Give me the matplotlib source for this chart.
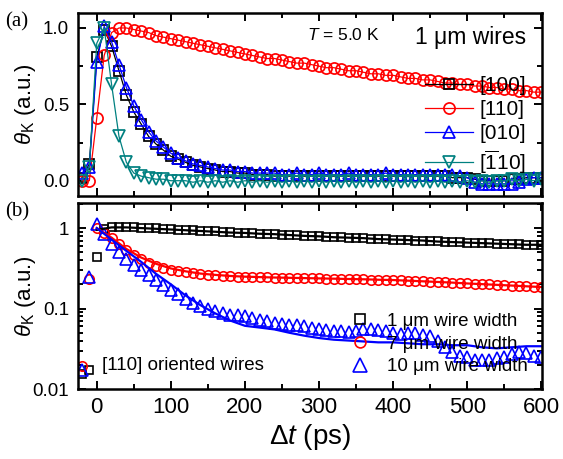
import numpy as np
import matplotlib
matplotlib.use('Agg')
import matplotlib.pyplot as plt
from matplotlib import ticker

plt.rcParams['font.family'] = ['Liberation Sans', 'DejaVu Sans']
plt.rcParams['mathtext.fontset'] = 'custom'
plt.rcParams['mathtext.rm'] = 'Liberation Sans'
plt.rcParams['mathtext.it'] = 'Liberation Sans:italic'
plt.rcParams['mathtext.bf'] = 'Liberation Sans:bold'

TEAL = '#008080'

# probe delay (ps), one point every 10 ps
delay = np.arange(-20, 601, 10)
# delay grid of the model curves in (b)
fit_delay = np.arange(0, 601, 20)

# (a) 1 um wires, Kerr signal for four wire orientations (normalised)
kerr_100 = [0.02, 0.11, 0.81, 0.99, 0.88, 0.72, 0.56, 0.45, 0.37, 0.29,
            0.24, 0.20, 0.16, 0.14, 0.12, 0.10, 0.09, 0.08, 0.07, 0.06,
            0.06, 0.05, 0.05, 0.04, 0.04, 0.04, 0.03, 0.03, 0.03, 0.03,
            0.03, 0.03, 0.03, 0.03, 0.03, 0.03, 0.03, 0.03, 0.03, 0.03,
            0.03, 0.03, 0.03, 0.03, 0.03, 0.03, 0.03, 0.03, 0.03, 0.03,
            0.02, 0.02, 0.02, 0.01, 0.00, 0.00, 0.00, 0.00, 0.01, 0.01,
            0.02, 0.02, 0.02]
kerr_110 = [0.00, 0.00, 0.41, 0.82, 0.97, 1.00, 1.00, 0.99, 0.98, 0.97,
            0.95, 0.94, 0.93, 0.92, 0.91, 0.90, 0.89, 0.88, 0.87, 0.86,
            0.85, 0.84, 0.83, 0.82, 0.81, 0.80, 0.80, 0.79, 0.78, 0.77,
            0.77, 0.76, 0.75, 0.74, 0.74, 0.73, 0.72, 0.72, 0.71, 0.70,
            0.70, 0.69, 0.69, 0.68, 0.67, 0.67, 0.66, 0.66, 0.65, 0.64,
            0.64, 0.63, 0.63, 0.62, 0.62, 0.61, 0.61, 0.60, 0.60, 0.59,
            0.59, 0.58, 0.58]
kerr_010 = [0.05, 0.09, 0.78, 1.01, 0.91, 0.76, 0.61, 0.49, 0.40, 0.32,
            0.26, 0.22, 0.18, 0.15, 0.13, 0.11, 0.10, 0.09, 0.08, 0.07,
            0.07, 0.06, 0.06, 0.05, 0.05, 0.05, 0.05, 0.04, 0.04, 0.05,
            0.04, 0.04, 0.05, 0.04, 0.04, 0.04, 0.05, 0.04, 0.04, 0.04,
            0.04, 0.05, 0.04, 0.04, 0.04, 0.04, 0.04, 0.04, 0.04, 0.04,
            0.04, 0.03, 0.02, -0.01, -0.02, -0.02, -0.02, -0.02, -0.02, -0.01,
            0.01, 0.02, 0.02]
kerr_m110 = [0.00, 0.09, 0.90, 1.00, 0.63, 0.29, 0.12, 0.05, 0.03, 0.02,
             0.01, 0.01, 0.00, 0.00, 0.00, -0.01, 0.00, -0.01, 0.00, -0.01,
             0.00, -0.01, 0.00, -0.01, 0.00, -0.01, 0.00, -0.01, 0.00, -0.01,
             0.00, -0.01, 0.00, -0.01, 0.00, -0.01, 0.00, -0.01, 0.00, -0.01,
             0.00, -0.01, 0.00, -0.01, 0.00, -0.01, 0.00, -0.01, 0.00, -0.01,
             0.00, -0.01, 0.00, -0.01, 0.00, -0.01, 0.00, 0.00, 0.01, 0.00,
             0.01, 0.00, 0.01]

# (b) [110] oriented wires of different width
width_1um = [0.0155, 0.017, 0.44, 0.98, 1.03, 1.04, 1.03, 1.02, 1.01, 1.00,
             0.99, 0.98, 0.97, 0.96, 0.95, 0.94, 0.93, 0.92, 0.91, 0.90,
             0.89, 0.88, 0.87, 0.86, 0.85, 0.84, 0.84, 0.83, 0.82, 0.81,
             0.80, 0.80, 0.79, 0.78, 0.77, 0.77, 0.76, 0.75, 0.75, 0.74,
             0.73, 0.73, 0.72, 0.71, 0.71, 0.70, 0.70, 0.69, 0.69, 0.68,
             0.67, 0.67, 0.66, 0.66, 0.65, 0.65, 0.64, 0.64, 0.63, 0.63,
             0.62, 0.62, 0.62]
width_7um = [0.0195, 0.235, 1.0, 0.88, 0.75, 0.63, 0.53, 0.46, 0.41, 0.37,
             0.34, 0.32, 0.305, 0.293, 0.283, 0.275, 0.268, 0.263, 0.259, 0.255,
             0.252, 0.25, 0.248, 0.246, 0.245, 0.244, 0.243, 0.242, 0.241, 0.24,
             0.239, 0.238, 0.237, 0.236, 0.235, 0.234, 0.233, 0.232, 0.231, 0.229,
             0.228, 0.227, 0.226, 0.224, 0.222, 0.22, 0.218, 0.216, 0.214, 0.212,
             0.21, 0.207, 0.205, 0.203, 0.201, 0.199, 0.197, 0.195, 0.193, 0.191,
             0.189, 0.187, 0.185]
width_10um = [0.017, 0.25, 1.13, 0.85, 0.63, 0.50, 0.41, 0.35, 0.30, 0.26,
              0.225, 0.195, 0.17, 0.15, 0.13, 0.118, 0.107, 0.099, 0.093, 0.088,
              0.084, 0.082, 0.080, 0.077, 0.073, 0.070, 0.067, 0.065, 0.063, 0.062,
              0.060, 0.058, 0.056, 0.054, 0.053, 0.052, 0.051, 0.053, 0.055, 0.056,
              0.054, 0.052, 0.050, 0.048, 0.050, 0.049, 0.047, 0.045, 0.040, 0.033,
              0.029, 0.026, 0.025, 0.023, 0.023, 0.023, 0.024, 0.025, 0.027, 0.029,
              0.028, 0.026, 0.025]

# model curves for (b)
fit_1um = [0.95, 1.02, 1.02, 1.00, 0.98, 0.96, 0.94, 0.92, 0.90, 0.88,
           0.87, 0.85, 0.84, 0.82, 0.80, 0.79, 0.77, 0.76, 0.75, 0.73,
           0.72, 0.71, 0.70, 0.68, 0.67, 0.66, 0.65, 0.64, 0.63, 0.62, 0.62]
fit_7um = [1.00, 0.76, 0.55, 0.43, 0.36, 0.315, 0.29, 0.272, 0.262, 0.254,
           0.249, 0.246, 0.243, 0.241, 0.239, 0.237, 0.235, 0.233, 0.231, 0.228,
           0.226, 0.222, 0.218, 0.214, 0.210, 0.205, 0.201, 0.197, 0.193, 0.189, 0.185]
fit_10um = [1.00, 0.72, 0.52, 0.38, 0.27, 0.20, 0.145, 0.11, 0.087, 0.071,
            0.061, 0.058, 0.055, 0.050, 0.046, 0.043, 0.041, 0.040, 0.039, 0.038,
            0.038, 0.037, 0.036, 0.036, 0.035, 0.035, 0.033, 0.032, 0.033, 0.034, 0.034]

orient_labels = ['[100]', '[110]', '[010]', r'[$\overline{1}$10]']
width_labels = [u'1 \u03bcm wire width', u'7 \u03bcm wire width', u'10 \u03bcm wire width']

fig = plt.figure(figsize=(5.63, 4.59), dpi=100)
W, H = 563., 459.
ax_a = fig.add_axes([77.5 / W, 1 - 196 / H, 464.5 / W, 183.3 / H])
ax_b = fig.add_axes([77.5 / W, 1 - 389 / H, 464.5 / W, 186 / H])

for ax in (ax_a, ax_b):
    for sp in ax.spines.values():
        sp.set_linewidth(1.8)
    ax.tick_params(which='both', direction='in', top=True, right=True, width=1.4)
    ax.tick_params(which='major', length=6, pad=6)
    ax.tick_params(which='minor', length=3.5)
    ax.tick_params(axis='x', labelsize=16)
    ax.tick_params(axis='y', labelsize=13.5)
    ax.set_xlim(-26, 601)
    ax.xaxis.set_major_locator(ticker.MultipleLocator(100))
    ax.xaxis.set_minor_locator(ticker.MultipleLocator(50))

# ---- panel (a)
styles_a = [(kerr_100, 'k', 's', 7.0), (kerr_110, 'r', 'o', 8.0),
            (kerr_010, 'b', '^', 8.8), (kerr_m110, TEAL, 'v', 8.8)]
for (vals, col, mk, ms), lab in zip(styles_a, orient_labels):
    ax_a.plot(delay, vals, color=col, marker=mk, mfc='none', ms=ms, mew=1.25,
              lw=0.9, label=lab)
ax_a.set_ylim(-0.1, 1.1)
ax_a.yaxis.set_major_locator(ticker.MultipleLocator(0.5))
ax_a.yaxis.set_minor_locator(ticker.MultipleLocator(0.25))
ax_a.yaxis.set_major_formatter(ticker.FormatStrFormatter('%.1f'))
ax_a.tick_params(labelbottom=False)
ax_a.set_ylabel(r'$\theta_\mathrm{K}$ (a.u.)', fontsize=16)
ax_a.yaxis.label.set_va('center')
ax_a.yaxis.set_label_coords(-0.113, 0.5)
ax_a.legend(loc='upper right', bbox_to_anchor=(0.966, 0.655), frameon=False,
            fontsize=15, handlelength=2.3, handletextpad=0.3, labelspacing=0.25,
            borderpad=0, borderaxespad=0)
ax_a.text(0.494, 0.878, r'$T$ = 5.0 K', transform=ax_a.transAxes,
          fontsize=12.5, va='center')
ax_a.text(0.7266, 0.862, u'1 \u03bcm wires', transform=ax_a.transAxes,
          fontsize=16.5, va='center')

# ---- panel (b)
styles_b = [(width_1um, fit_1um, 'k', 's', 6.0), (width_7um, fit_7um, 'r', 'o', 6.8),
            (width_10um, fit_10um, 'b', '^', 8.2)]
handles = []
for (vals, fit, col, mk, ms), lab in zip(styles_b, width_labels):
    h, = ax_b.plot(delay, vals, ls='none', color=col, marker=mk, mfc='none',
                   ms=ms, mew=1.2, label=lab)
    handles.append(h)
for (vals, fit, col, mk, ms) in styles_b:
    ax_b.plot(fit_delay, fit, color=col, lw=1.6)
ax_b.set_yscale('log')
ax_b.set_ylim(0.01, 2.05)
ax_b.yaxis.set_major_formatter(ticker.FuncFormatter(lambda v, p: '%g' % v))
ax_b.set_ylabel(r'$\theta_\mathrm{K}$ (a.u.)', fontsize=16)
ax_b.yaxis.label.set_va('center')
ax_b.yaxis.set_label_coords(-0.113, 0.5)
ax_b.set_xlabel(r'$\Delta t$ (ps)', fontsize=20)
ax_b.xaxis.label.set_va('center')
ax_b.xaxis.set_label_coords(0.5, -0.258)
ax_b.legend(handles=handles, loc='upper left', bbox_to_anchor=(0.589, 0.41),
            frameon=False, fontsize=13.5, handlelength=1.0, handletextpad=0.9,
            labelspacing=0.3, borderpad=0, borderaxespad=0, markerscale=1.15)
ax_b.text(0.0527, 0.129, '[110] oriented wires', transform=ax_b.transAxes,
          fontsize=13.5, va='center')

fig.text(5 / W, 1 - 22 / H, '(a)', family='Liberation Serif', fontsize=15, va='center')
fig.text(5 / W, 1 - 212 / H, '(b)', family='Liberation Serif', fontsize=15, va='center')

fig.savefig('out.png', dpi=100)
